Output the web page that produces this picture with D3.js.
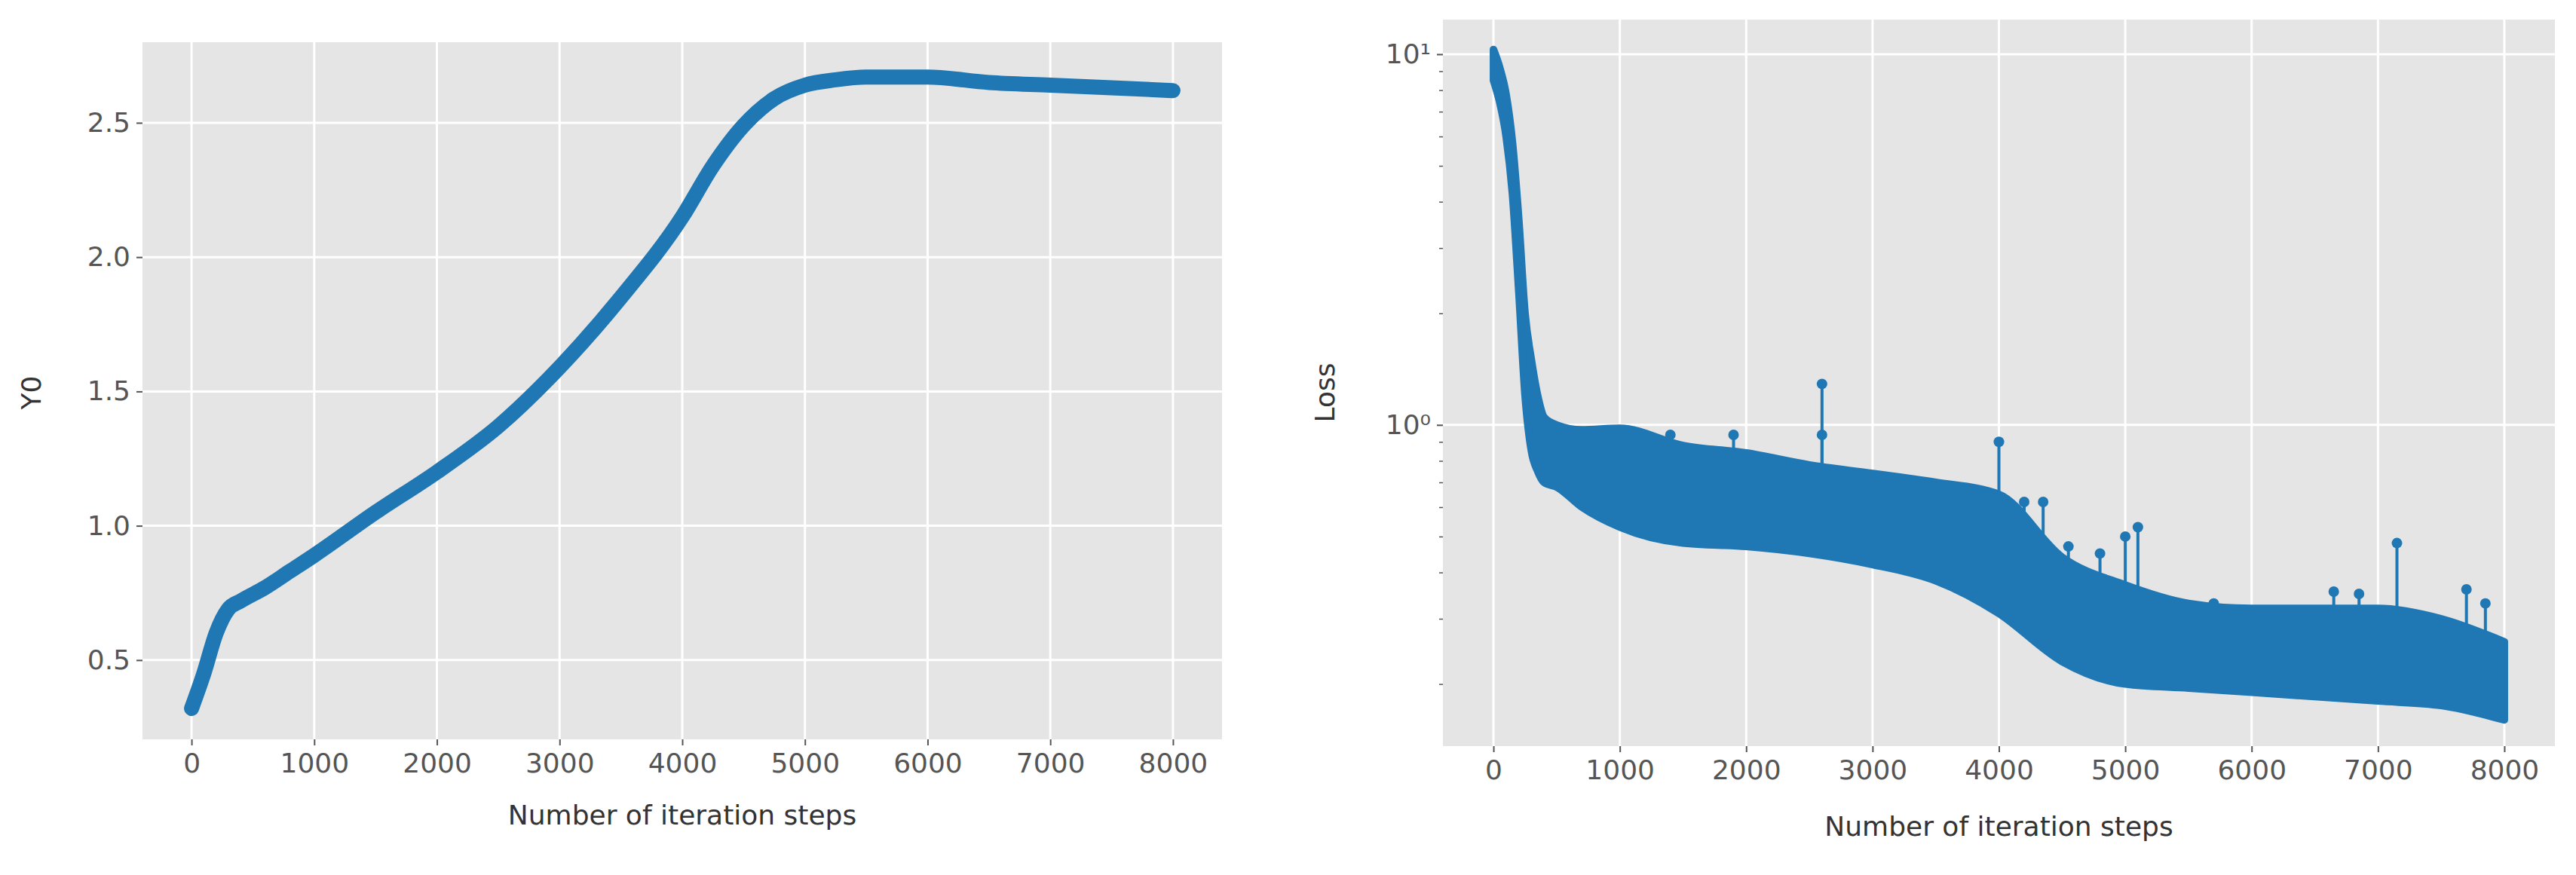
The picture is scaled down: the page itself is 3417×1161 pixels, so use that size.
<!DOCTYPE html>
<html><head><meta charset="utf-8">
<script src="https://cdn.jsdelivr.net/npm/d3@7"></script>
<style>body{margin:0;background:#fff}text{font-family:"DejaVu Sans",sans-serif}</style>
</head><body><svg id="c" width="3417" height="1161"></svg>
<script>
const y0Steps = [0,100,200,300,400,600,800,1000,1500,2000,2500,3000,3500,4000,4250,4500,4750,5000,5250,5500,6000,6500,7000,7500,8000];
const y0Vals  = [0.32,0.45,0.60,0.69,0.72,0.77,0.83,0.89,1.05,1.20,1.37,1.59,1.85,2.15,2.34,2.49,2.59,2.64,2.66,2.67,2.67,2.65,2.64,2.63,2.62];
const lossSteps = [0,50,100,150,200,250,300,350,400,500,700,1000,1500,2000,2500,3000,3500,4000,4500,5000,5500,6000,6500,7000,7500,8000];
const lossUpper = [10.3,9.2,7.8,5.8,3.6,2.0,1.5,1.2,1.05,1.0,0.97,0.98,0.88,0.84,0.78,0.74,0.70,0.65,0.44,0.37,0.33,0.32,0.32,0.32,0.30,0.26];
const lossLower = [8.5,7.4,6.0,4.2,2.3,1.2,0.85,0.75,0.70,0.68,0.60,0.53,0.48,0.47,0.45,0.42,0.38,0.31,0.23,0.20,0.195,0.19,0.185,0.18,0.175,0.16];
const spikeSteps = [1400,1900,2600,2600,4000,4200,4350,4550,4800,5000,5100,5700,6650,6850,7150,7700,7850];
const spikeVals  = [0.94,0.94,1.29,0.94,0.90,0.62,0.62,0.47,0.45,0.50,0.53,0.33,0.355,0.35,0.48,0.36,0.33];
const xTicks = [0,1000,2000,3000,4000,5000,6000,7000,8000];
const y0Ticks = [0.5,1.0,1.5,2.0,2.5];
const lossTicks = [1,10];
const lossTickLabels = ["10⁰","10¹"];
const xLabel = "Number of iteration steps";

const svg = d3.select("#c");
const blue = "#1f77b4";
function panel(L, R, T, B){
  const g = svg.append("g");
  g.append("rect").attr("x",L).attr("y",T).attr("width",R-L).attr("height",B-T).attr("fill","#e5e5e5");
  return g;
}
function styleAxis(a){
  a.select(".domain").remove();
  a.selectAll(".tick line").attr("stroke","#555").attr("stroke-width",2);
  a.selectAll(".tick text").attr("fill","#555").style("font-size","36px");
}
// Left
{
  const L=189,R=1621,T=56,B=981;
  const g=panel(L,R,T,B);
  const x=d3.scaleLinear().domain([-400,8400]).range([L,R]);
  const y=d3.scaleLinear().domain([0.205,2.80]).range([B,T]);
  xTicks.forEach(t=>g.append("line").attr("x1",x(t)).attr("x2",x(t)).attr("y1",T).attr("y2",B).attr("stroke","#fff").attr("stroke-width",3));
  y0Ticks.forEach(t=>g.append("line").attr("y1",y(t)).attr("y2",y(t)).attr("x1",L).attr("x2",R).attr("stroke","#fff").attr("stroke-width",3));
  const ax=g.append("g").attr("transform",`translate(0,${B})`).call(d3.axisBottom(x).tickValues(xTicks).tickSize(8).tickPadding(10).tickFormat(d3.format("d")));
  styleAxis(ax);
  const ay=g.append("g").attr("transform",`translate(${L},0)`).call(d3.axisLeft(y).tickValues(y0Ticks).tickSize(8).tickPadding(8).tickFormat(d3.format(".1f")));
  styleAxis(ay);
  const pts=y0Steps.map((s,i)=>[s,y0Vals[i]]);
  g.append("path").datum(pts).attr("d",d3.line().x(d=>x(d[0])).y(d=>y(d[1])).curve(d3.curveMonotoneX))
    .attr("fill","none").attr("stroke",blue).attr("stroke-width",20).attr("stroke-linecap","round").attr("stroke-linejoin","round");
  g.append("text").attr("x",(L+R)/2).attr("y",1094).attr("text-anchor","middle").attr("fill","#333").style("font-size","36px").text(xLabel);
  g.append("text").attr("transform",`translate(44,521) rotate(-90)`).attr("text-anchor","middle").attr("dominant-baseline","middle").attr("fill","#333").style("font-size","36px").text("Y0");
}
// Right
{
  const L=1914,R=3389,T=26,B=990;
  const g=panel(L,R,T,B);
  const x=d3.scaleLinear().domain([-400,8400]).range([L,R]);
  const y=d3.scaleLog().domain([0.136,12.4]).range([B,T]);
  xTicks.forEach(t=>g.append("line").attr("x1",x(t)).attr("x2",x(t)).attr("y1",T).attr("y2",B).attr("stroke","#fff").attr("stroke-width",3));
  lossTicks.forEach(t=>g.append("line").attr("y1",y(t)).attr("y2",y(t)).attr("x1",L).attr("x2",R).attr("stroke","#fff").attr("stroke-width",3));
  const ax=g.append("g").attr("transform",`translate(0,${B})`).call(d3.axisBottom(x).tickValues(xTicks).tickSize(8).tickPadding(10).tickFormat(d3.format("d")));
  styleAxis(ax);
  const ay=g.append("g").attr("transform",`translate(${L},0)`).call(d3.axisLeft(y).tickValues(lossTicks).tickSize(8).tickPadding(8).tickFormat((d,i)=>lossTickLabels[i]));
  styleAxis(ay);
  const minor=[];
  [0.1,1].forEach(dec=>{for(let k=2;k<10;k++){const v=dec*k;if(v>0.136&&v<12.4)minor.push(v);}});
  const am=g.append("g").attr("transform",`translate(${L},0)`).call(d3.axisLeft(y).tickValues(minor).tickSize(5).tickFormat(""));
  am.select(".domain").remove(); am.selectAll(".tick line").attr("stroke","#555").attr("stroke-width",1.5);
  const band=lossSteps.map((s,i)=>({s,u:lossUpper[i],l:lossLower[i]}));
  g.append("path").datum(band).attr("d",d3.area().x(d=>x(d.s)).y0(d=>y(d.l)).y1(d=>y(d.u)).curve(d3.curveMonotoneX))
    .attr("fill",blue).attr("stroke",blue).attr("stroke-width",10).attr("stroke-linejoin","round");
  spikeSteps.forEach((s,i)=>{
    let i2=d3.bisectLeft(lossSteps,s); const t=(s-lossSteps[i2-1])/(lossSteps[i2]-lossSteps[i2-1]);
    const base=lossUpper[i2-1]+(lossUpper[i2]-lossUpper[i2-1])*t;
    g.append("line").attr("x1",x(s)).attr("x2",x(s)).attr("y1",y(base)).attr("y2",y(spikeVals[i])).attr("stroke",blue).attr("stroke-width",4);
    g.append("circle").attr("cx",x(s)).attr("cy",y(spikeVals[i])).attr("r",7).attr("fill",blue);
  });
  g.append("text").attr("x",(L+R)/2).attr("y",1109).attr("text-anchor","middle").attr("fill","#333").style("font-size","36px").text(xLabel);
  g.append("text").attr("transform",`translate(1760,521) rotate(-90)`).attr("text-anchor","middle").attr("dominant-baseline","middle").attr("fill","#333").style("font-size","36px").text("Loss");
}
</script></body></html>
